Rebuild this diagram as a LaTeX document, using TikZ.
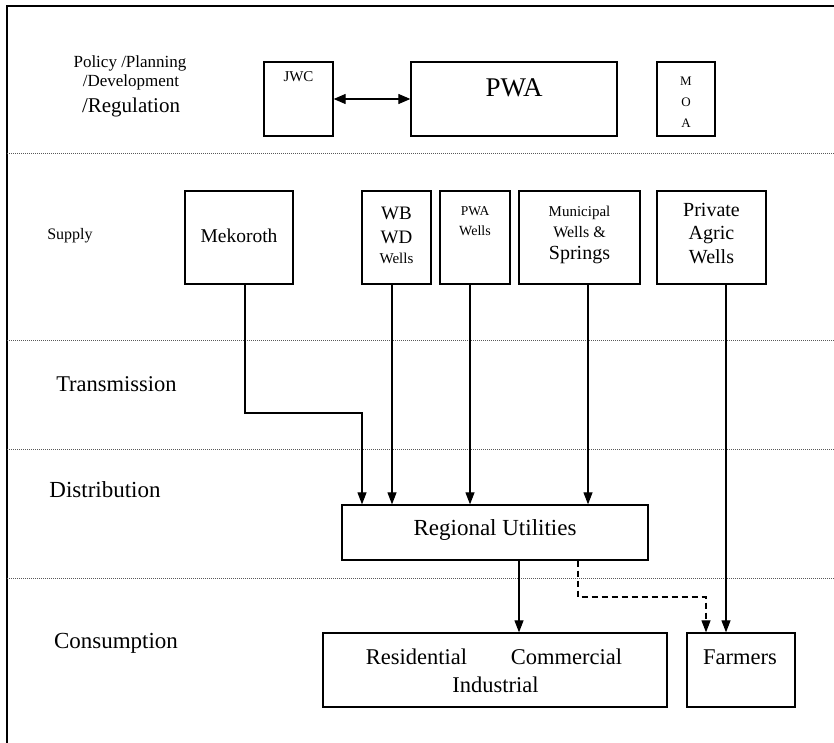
\documentclass[tikz,border=0pt]{standalone}
\usepackage{fontspec}
\setmainfont{Liberation Serif}
\usetikzlibrary{arrows.meta}
\tikzstyle{box}=[draw,line width=1.3pt,inner sep=0pt]
\tikzstyle{txt}=[inner sep=0pt,anchor=base]
\tikzstyle{sep}=[dash pattern=on 1pt off 1pt,line width=0.9pt,color=black!65]
\tikzstyle{arr}=[line width=1.1pt,-{Triangle[length=12pt,width=9pt]}]
\newcommand{\fsz}[1]{\fontsize{#1}{#1}\selectfont}

\begin{document}
\begin{tikzpicture}[x=1pt,y=-1pt]
\useasboundingbox (0,0) rectangle (834,743);
\draw[line width=1.3pt] (7,743)--(7,6)--(834,6);
\draw[sep] (7,153)--(834,153);
\draw[sep] (7,340)--(834,340);
\draw[sep] (7,449)--(834,449);
\draw[sep] (7,578)--(834,578);

\draw (130,68) node[txt]{\fsz{17}Policy /Planning};
\draw (131,87) node[txt]{\fsz{17}/Development};
\draw (131,113) node[txt]{\fsz{21}/Regulation};
\draw (70,240) node[txt]{\fsz{16}Supply};
\draw (116.5,391) node[txt]{\fsz{22.5}Transmission};
\draw (105,497) node[txt]{\fsz{23}Distribution};
\draw (116,648) node[txt]{\fsz{23}Consumption};

\draw (298.5,99) node (jwc)[box,minimum width=69,minimum height=74]{};
\draw (514,99) node (pwa)[box,minimum width=206,minimum height=74]{};
\draw (686,99) node (moa)[box,minimum width=58,minimum height=74]{};
\draw (298.5,82) node[txt]{\fsz{15}JWC};
\draw (514,97) node[txt]{\fsz{27}PWA};
\draw (686,86) node[txt]{\fsz{13}M};
\draw (686,107) node[txt]{\fsz{13}O};
\draw (686,128) node[txt]{\fsz{13}A};
\draw[line width=1.1pt,{Triangle[length=12pt,width=10pt]}-{Triangle[length=12pt,width=10pt]}] (jwc.east)--(pwa.west);

\draw (239,237.5) node (mek)[box,minimum width=108,minimum height=93]{};
\draw (396.5,237.5) node (wbwd)[box,minimum width=69,minimum height=93]{};
\draw (475,237.5) node (pwaw)[box,minimum width=70,minimum height=93]{};
\draw (579.5,237.5) node (mun)[box,minimum width=121,minimum height=93]{};
\draw (711.5,237.5) node (agric)[box,minimum width=109,minimum height=93]{};
\draw (239,242) node[txt]{\fsz{19.5}Mekoroth};
\draw (396.5,219) node[txt]{\fsz{19}WB};
\draw (396.5,243) node[txt]{\fsz{19}WD};
\draw (396.5,263) node[txt]{\fsz{15}Wells};
\draw (475,215) node[txt]{\fsz{13.5}PWA};
\draw (475,236) node[txt]{\fsz{14}Wells};
\draw (579.5,216) node[txt]{\fsz{15}Municipal};
\draw (579.5,237) node[txt]{\fsz{16}Wells \&};
\draw (579.5,259) node[txt]{\fsz{20}Springs};
\draw (711.5,217) node[txt]{\fsz{20}Private};
\draw (711.5,240) node[txt]{\fsz{20}Agric};
\draw (711.5,263) node[txt]{\fsz{20}Wells};

\draw (495,532.5) node (ru)[box,minimum width=306,minimum height=55]{};
\draw (495,670) node (res)[box,minimum width=344,minimum height=74]{};
\draw (741,670) node (farm)[box,minimum width=108,minimum height=74]{};
\draw (495,535) node[txt]{\fsz{23}Regional Utilities};
\draw (416.5,664) node[txt]{\fsz{22.5}Residential};
\draw (566.5,664) node[txt]{\fsz{22.5}Commercial};
\draw (495.5,692) node[txt]{\fsz{22.5}Industrial};
\draw (740,664) node[txt]{\fsz{22.5}Farmers};

\draw[arr] (mek.south -| 245,0) |- (362,413) -- (ru.north -| 362,0);
\draw[arr] (wbwd.south -| 392,0) -- (ru.north -| 392,0);
\draw[arr] (pwaw.south -| 470,0) -- (ru.north -| 470,0);
\draw[arr] (mun.south -| 588,0) -- (ru.north -| 588,0);
\draw[arr] (agric.south -| 726,0) -- (farm.north -| 726,0);
\draw[arr] (ru.south -| 519,0) -- (res.north -| 519,0);
\draw[arr,dash pattern=on 6pt off 4pt] (ru.south -| 578,0) |- (706,597) -- (farm.north -| 706,0);
\end{tikzpicture}
\end{document}
